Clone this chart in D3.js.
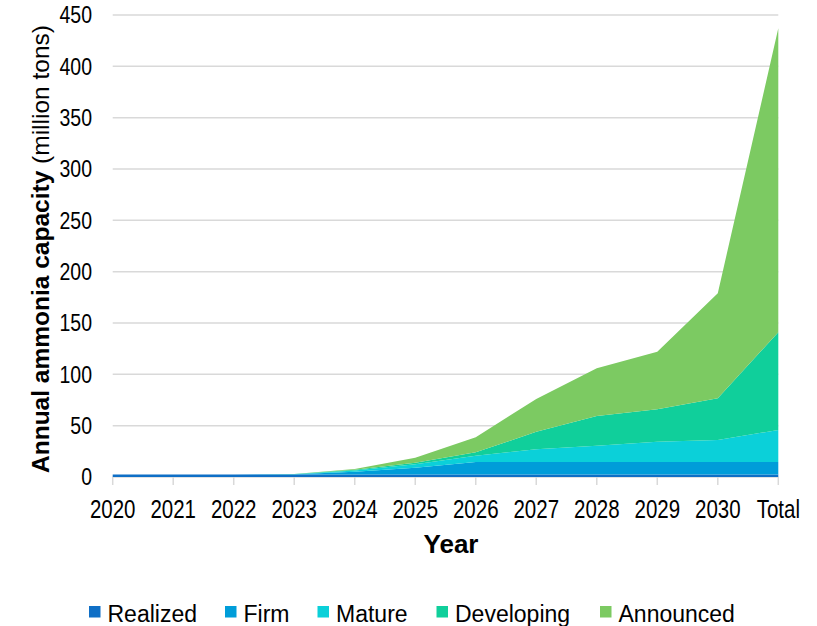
<!DOCTYPE html>
<html><head><meta charset="utf-8">
<script src="https://cdn.jsdelivr.net/npm/d3@7"></script>
<style>body{margin:0;background:#fff}svg{display:block;font-family:"Liberation Sans",Arial,sans-serif}</style>
</head><body><svg id="c" width="817" height="626"></svg>
<script>
const categories = ["2020","2021","2022","2023","2024","2025","2026","2027","2028","2029","2030","Total"];
const realized   = [2.5,2.5,2.5,2.5,2.5,2.5,2.5,2.5,2.5,2.5,2.5,2.5];
const firm       = [0,0,0,0.2,2.5,6.5,12,12,12,12,12,12];
const mature     = [0,0,0,0.1,1.3,3.4,6.3,12.5,16,19.9,21.5,31.3];
const developing = [0,0,0,0.1,0.7,1.6,3.2,17,29,31.6,40.7,95.2];
const announced  = [0,0,0,0.1,0.8,4.8,14.7,32,46.5,56,102.3,296];
const seriesNames = ["Realized","Firm","Mature","Developing","Announced"];
const colors = ["#0F6FC6","#009DD9","#0BD0D9","#10CF9B","#7CCA62"];
const yTicks = [0,50,100,150,200,250,300,350,400,450];

const svg = d3.select("#c");
const x = d3.scalePoint().domain(categories).range([112.7, 778.3]);
const y = d3.scaleLinear().domain([0,450]).range([477, 15]);

const rows = categories.map((c,i)=>({cat:c, Realized:realized[i], Firm:firm[i], Mature:mature[i], Developing:developing[i], Announced:announced[i]}));
const stack = d3.stack().keys(seriesNames)(rows);

// gridlines
svg.append("g").selectAll("line").data(yTicks).join("line")
  .attr("x1", x.range()[0]).attr("x2", x.range()[1])
  .attr("y1", d=>y(d)).attr("y2", d=>y(d))
  .attr("stroke","#d9d9d9").attr("stroke-width",1.5);

const area = d3.area().x(d=>x(d.data.cat)).y0(d=>y(d[0])).y1(d=>y(d[1]));
svg.append("g").selectAll("path").data(stack).join("path")
  .attr("d", area).attr("fill",(d,i)=>colors[i]);

// x ticks
svg.append("g").selectAll("line").data(categories).join("line")
  .attr("x1", d=>x(d)).attr("x2", d=>x(d))
  .attr("y1", y(0)).attr("y2", y(0)+8)
  .attr("stroke","#d9d9d9").attr("stroke-width",1.5);

// y labels
svg.append("g").selectAll("text").data(yTicks).join("text")
  .attr("transform", d=>`translate(92,${y(d)+8.3}) scale(1,1.2)`)
  .attr("text-anchor","end").attr("font-size",19.5).attr("fill","#000")
  .text(d=>d);

// x labels
svg.append("g").selectAll("text").data(categories).join("text")
  .attr("transform", d=>`translate(${x(d)},518) scale(1,1.28)`)
  .attr("text-anchor","middle").attr("font-size",20.5).attr("fill","#000")
  .text(d=>d);

// axis titles
svg.append("text").attr("x", 451).attr("y", 553).attr("text-anchor","middle")
  .attr("font-size",26).attr("font-weight","bold").text("Year");

const yt = svg.append("text").attr("transform","translate(49,249) rotate(-90)")
  .attr("text-anchor","middle").attr("font-size",24.5);
yt.append("tspan").attr("font-weight","bold").text("Annual ammonia capacity");
yt.append("tspan").text(" (million tons)");

// legend
const legX = [89, 225, 317.5, 436.5, 600];
const leg = svg.append("g").selectAll("g").data(seriesNames).join("g")
  .attr("transform",(d,i)=>`translate(${legX[i]},0)`);
leg.append("rect").attr("x",0).attr("y",606).attr("width",11.5).attr("height",11.5).attr("fill",(d,i)=>colors[i]);
leg.append("text").attr("x",18.5).attr("y",621.5).attr("font-size",23).text(d=>d);
</script></body></html>
